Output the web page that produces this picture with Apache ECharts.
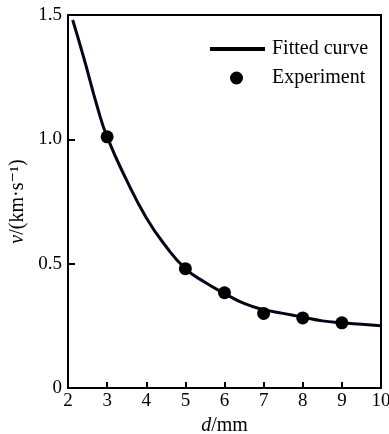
<!DOCTYPE html>
<html>
<head>
<meta charset="utf-8">
<script src="https://cdn.jsdelivr.net/npm/echarts@6/dist/echarts.min.js"></script>
<style>html,body{margin:0;padding:0;background:#fff}#c{width:389px;height:434px}</style>
</head>
<body>
<div id="c"></div>
<script>
// Experiment points (d in mm, v in km/s)
const expD = [3, 5, 6, 7, 8, 9];
const expV = [1.01, 0.48, 0.383, 0.30, 0.282, 0.262];
// Fitted curve
const fitD = [2.12, 2.4, 2.75, 3, 3.5, 4, 4.5, 5, 5.5, 6, 6.5, 7, 7.5, 8, 8.5, 9, 9.5, 10];
const fitV = [1.48, 1.33, 1.13, 1.01, 0.835, 0.685, 0.57, 0.48, 0.425, 0.38, 0.34, 0.315, 0.30, 0.285, 0.27, 0.262, 0.256, 0.25];
const xTicks = [2, 3, 4, 5, 6, 7, 8, 9, 10];
const yTicks = [0, 0.5, 1.0, 1.5];
const seriesNames = ['Fitted curve', 'Experiment'];

const serif = '"Liberation Serif", "DejaVu Serif", serif';
const chart = echarts.init(document.getElementById('c'));
chart.setOption({
  animation: false,
  backgroundColor: '#fff',
  grid: { left: 68, right: 8, top: 15, bottom: 46, show: true, borderColor: '#000', borderWidth: 2, backgroundColor: 'transparent', containLabel: false, outerBoundsMode: 'none' },
  legend: [
    {
      left: 205, top: 34, itemWidth: 55, itemHeight: 4,
      textStyle: { fontFamily: serif, fontSize: 20, color: '#000', padding: [0, 0, 0, 2] },
      data: [{ name: seriesNames[0], icon: 'rect', itemStyle: { color: '#000' } }]
    },
    {
      left: 225, top: 63, itemWidth: 13, itemHeight: 13,
      textStyle: { fontFamily: serif, fontSize: 20, color: '#000', padding: [0, 0, 0, 24] },
      data: [{ name: seriesNames[1], icon: 'circle', itemStyle: { color: '#000', opacity: 1 } }]
    }
  ],
  xAxis: {
    type: 'value', min: xTicks[0], max: xTicks[xTicks.length - 1], interval: 1,
    name: '{i|d}/mm', nameLocation: 'middle', nameGap: 25,
    nameTextStyle: { fontFamily: serif, fontSize: 20, color: '#000', rich: { i: { fontFamily: serif, fontSize: 20, fontStyle: 'italic', color: '#000' } } },
    axisLine: { lineStyle: { color: '#000', width: 2 } },
    axisTick: { inside: true, length: 6, lineStyle: { color: '#000', width: 2 } },
    axisLabel: { fontFamily: serif, fontSize: 19, color: '#000', margin: 4 },
    splitLine: { show: false }
  },
  yAxis: {
    type: 'value', min: yTicks[0], max: yTicks[yTicks.length - 1], interval: 0.5,
    name: '{i|v}/(km·s⁻¹)', nameLocation: 'middle', nameGap: 40, nameRotate: 90,
    nameTextStyle: { fontFamily: serif, fontSize: 20, color: '#000', rich: { i: { fontFamily: serif, fontSize: 20, fontStyle: 'italic', color: '#000' } } },
    axisLine: { lineStyle: { color: '#000', width: 2 } },
    axisTick: { inside: true, length: 7, lineStyle: { color: '#000', width: 2 } },
    axisLabel: { fontFamily: serif, fontSize: 19, color: '#000', margin: 6, formatter: v => v === 0 ? '0' : v.toFixed(1) },
    splitLine: { show: false }
  },
  series: [
    {
      name: seriesNames[0], type: 'line', smooth: true, symbol: 'none',
      lineStyle: { color: '#05051a', width: 3 }, itemStyle: { color: '#000' },
      data: fitD.map((d, i) => [d, fitV[i]]), z: 2
    },
    {
      name: seriesNames[1], type: 'scatter', symbol: 'circle', symbolSize: 13,
      itemStyle: { color: '#000', opacity: 1 },
      data: expD.map((d, i) => [d, expV[i]]), z: 3
    }
  ]
});
</script>
</body>
</html>
